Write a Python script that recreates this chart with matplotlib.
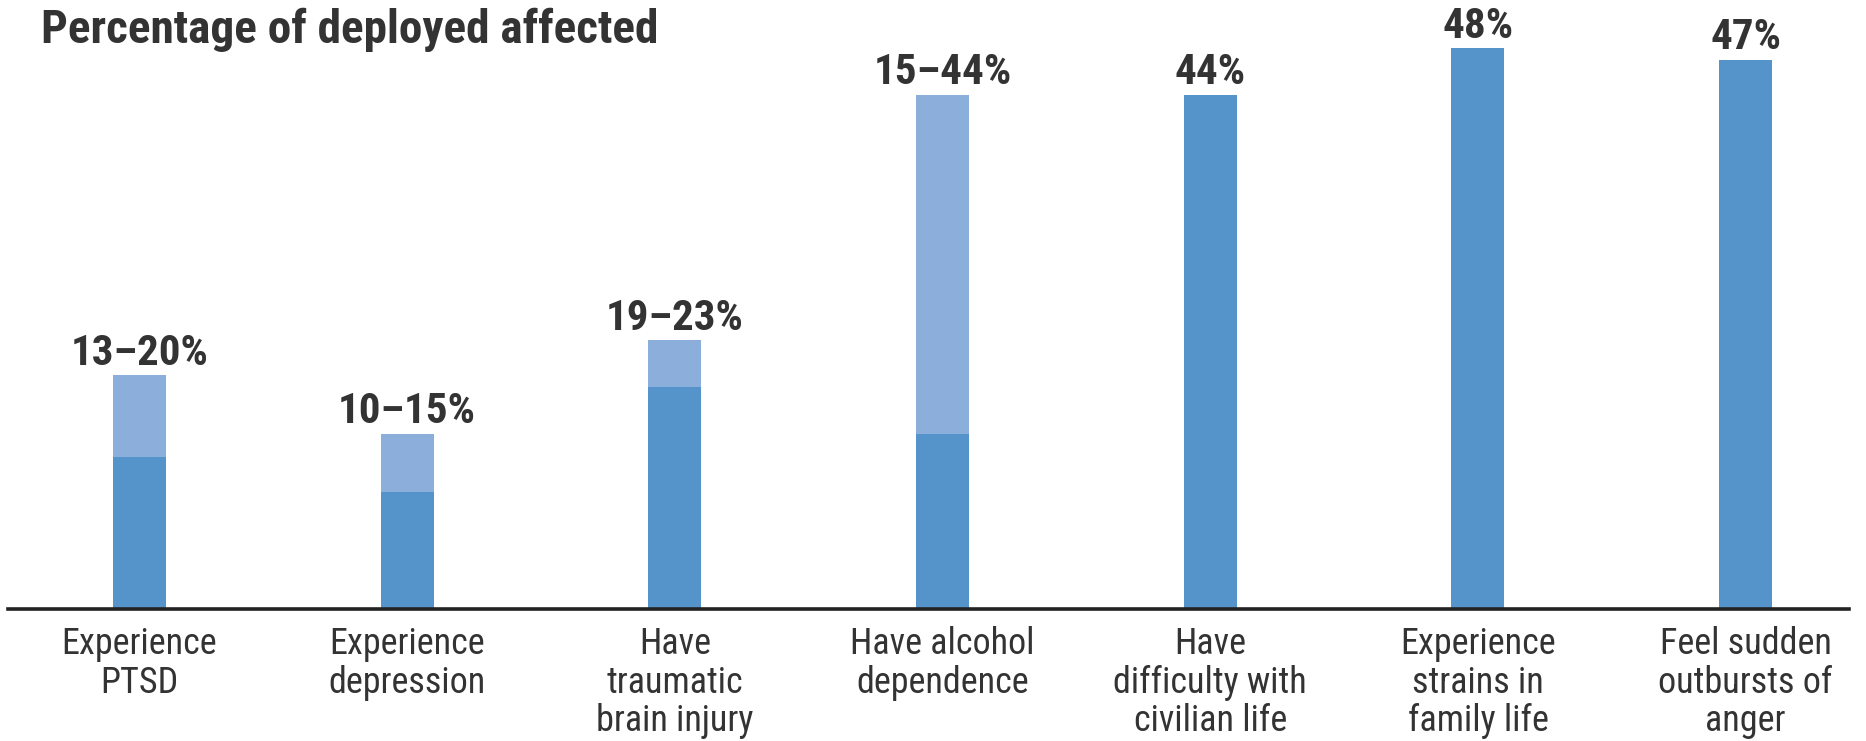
import matplotlib
matplotlib.use("Agg")
import matplotlib.pyplot as plt
import numpy as np

# data
categories = ["Experience\nPTSD", "Experience\ndepression", "Have\ntraumatic\nbrain injury",
              "Have alcohol\ndependence", "Have\ndifficulty with\ncivilian life",
              "Experience\nstrains in\nfamily life", "Feel sudden\noutbursts of\nanger"]
low_values = [13, 10, 19, 15, 44, 48, 47]
high_values = [20, 15, 23, 44, 44, 48, 47]
value_labels = ["13–20%", "10–15%", "19–23%", "15–44%", "44%", "48%", "47%"]

dark_blue = "#5593cb"
light_blue = "#8caedb"
text_color = "#333333"

plt.rcParams["font.family"] = ["Roboto Condensed", "DejaVu Sans"]
plt.rcParams["font.stretch"] = "condensed"

fig = plt.figure(figsize=(18.66, 7.41), dpi=100)
ax = fig.add_axes([0.0043, 0.178, 0.9866, 0.822])

x = np.arange(len(categories))
low = np.array(low_values)
high = np.array(high_values)

ax.bar(x, low, width=0.198, color=dark_blue, zorder=2)
ax.bar(x, high - low, bottom=low, width=0.198, color=light_blue, zorder=2)

for xi, h, lab in zip(x, high, value_labels):
    ax.annotate(lab, (xi, h), xytext=(0, 1), textcoords="offset points",
                ha="center", va="bottom", fontsize=31, fontweight="bold",
                color=text_color)

ax.set_xlim(-0.491, 6.386)
ax.set_ylim(0, 52.1)
ax.set_xticks(x, categories)
ax.tick_params(axis="x", length=0, pad=12, labelsize=26, labelcolor=text_color)
ax.set_yticks([])
for side in ["top", "left", "right"]:
    ax.spines[side].set_visible(False)
ax.spines["bottom"].set_linewidth(2.6)
ax.spines["bottom"].set_color("#222222")
for t in ax.get_xticklabels():
    t.set_linespacing(1.1)
    t.set_va("top")

fig.text(0.022, 0.99, "Percentage of deployed affected", ha="left", va="top",
         fontsize=34, fontweight="bold", color=text_color)

fig.savefig("out.png", dpi=100)
